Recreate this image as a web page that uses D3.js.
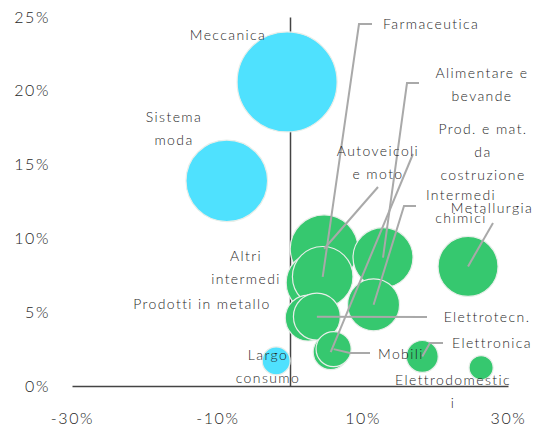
<!DOCTYPE html>
<html>
  <head>
    <meta charset="utf-8" />
    <script src="https://d3js.org/d3.v7.min.js"></script>
    <style>
      body { margin: 0; background: #fff; }
      svg text { font-family: Lato, "Open Sans", sans-serif; font-weight: 300; fill: #1f1f1f; }
    </style>
  </head>
  <body>
    <svg id="chart"></svg>
    <script>
      // sectors, drawn in this order (later ones on top)
      var sectors = [
        "Meccanica", "Sistema moda", "Largo consumo", "Autoveicoli e moto",
        "Altri intermedi", "Farmaceutica", "Alimentare e bevande", "Metallurgia",
        "Intermedi chimici", "Prodotti in metallo", "Elettrotecn.",
        "Prod. e mat. da costruzione", "Mobili", "Elettronica", "Elettrodomestici"
      ];
      // horizontal value (%)
      var xValues = [-0.4, -8.7, -1.9, 4.7, 3.6, 4.5, 12.8, 24.5, 11.5, 2.5, 3.7, 5.6, 6.0, 18.2, 26.3];
      // vertical value (%)
      var yValues = [20.6, 13.9, 1.7, 9.3, 7.0, 7.4, 8.7, 8.1, 5.5, 4.6, 4.7, 2.3, 2.5, 2.0, 1.24];
      // bubble size
      var sizes = [100, 66.6, 7.8, 46, 36, 36.7, 36, 36, 27, 21, 22, 12.3, 12.3, 10.2, 5.8];
      // group: 0 = cyan, 1 = green
      var groups = [0, 0, 0, 1, 1, 1, 1, 1, 1, 1, 1, 1, 1, 1, 1];

      var xTicks = [-30, -10, 10, 30];
      var yTicks = [0, 5, 10, 15, 20, 25];

      var width = 539, height = 430;
      var svg = d3.select("#chart").attr("width", width).attr("height", height);

      var x = d3.scaleLinear().domain([-30, 30]).range([72, 508]);
      var y = d3.scaleLinear().domain([0, 25]).range([386, 17]);
      var r = d3.scaleSqrt().domain([0, 100]).range([0, 50]);
      var colors = ["#4fe1fe", "#36c86f"];

      // axes (just the lines + labels, no tick marks)
      var xAxis = svg.append("g")
        .attr("transform", "translate(0," + y(0) + ")")
        .call(d3.axisBottom(x).tickValues(xTicks).tickSize(0).tickPadding(27)
          .tickFormat(function (d) { return d + "%"; }));
      xAxis.select(".domain").attr("stroke", "#444").attr("stroke-width", 1.5);

      var yAxis = svg.append("g")
        .attr("transform", "translate(" + x(0) + ",0)")
        .call(d3.axisLeft(y).tickValues(yTicks).tickSize(0).tickPadding(0)
          .tickFormat(function (d) { return d + "%"; }));
      yAxis.select(".domain").attr("stroke", "#444").attr("stroke-width", 1.5);
      // y labels sit at the far left of the picture
      yAxis.selectAll(".tick text").attr("x", 50 - x(0));

      svg.selectAll(".tick text")
        .attr("font-family", "Lato, sans-serif")
        .attr("font-size", 16)
        .attr("letter-spacing", 1.6)
        .attr("fill", "#1f1f1f");

      // bubbles
      svg.append("g").selectAll("circle")
        .data(sectors)
        .join("circle")
        .attr("cx", function (d, i) { return x(xValues[i]); })
        .attr("cy", function (d, i) { return y(yValues[i]); })
        .attr("r", function (d, i) { return r(sizes[i]); })
        .attr("fill", function (d, i) { return colors[groups[i]]; })
        .attr("stroke", "#e8eee9")
        .attr("stroke-width", 1.2);

      // leader lines: start near the label, optional elbow, then to the bubble centre
      var leaders = [
        { name: "Farmaceutica", pts: [[372, 24], [359, 24]] },
        { name: "Alimentare e bevande", pts: [[419, 83], [407, 83]] },
        { name: "Prod. e mat. da costruzione", pts: [[413, 154]] },
        { name: "Autoveicoli e moto", pts: [[378, 187]] },
        { name: "Intermedi chimici", pts: [[416, 206], [404, 206]] },
        { name: "Metallurgia", pts: [[493, 223]] },
        { name: "Elettrotecn.", pts: [[427, 317]] },
        { name: "Elettronica", pts: [[443, 343], [430, 343]] },
        { name: "Mobili", pts: [[370, 353], [350, 353]] }
      ];
      var line = d3.line();
      svg.append("g").selectAll("path")
        .data(leaders)
        .join("path")
        .attr("d", function (d) {
          var i = sectors.indexOf(d.name);
          return line(d.pts.concat([[x(xValues[i]), y(yValues[i])]]));
        })
        .attr("fill", "none")
        .attr("stroke", "#a9a9a9")
        .attr("stroke-width", 2);

      // labels
      var labels = [
        { lines: ["Meccanica"], x: 228, y: 35 },
        { lines: ["Sistema", "moda"], x: 174, y: 117 },
        { lines: ["Autoveicoli", "e moto"], x: 378, y: 151 },
        { lines: ["Farmaceutica"], x: 383, y: 24, anchor: "start" },
        { lines: ["Alimentare e", "bevande"], x: 482, y: 73 },
        { lines: ["Prod. e mat.", "da", "costruzione"], x: 483, y: 129 },
        { lines: ["Intermedi", "chimici"], x: 461, y: 195 },
        { lines: ["Metallurgia"], x: 492, y: 208 },
        { lines: ["Altri", "intermedi"], x: 246, y: 256 },
        { lines: ["Prodotti in metallo"], x: 202, y: 304 },
        { lines: ["Largo", "consumo"], x: 268, y: 355 },
        { lines: ["Elettrotecn."], x: 487, y: 317 },
        { lines: ["Elettronica"], x: 452, y: 343, anchor: "start" },
        { lines: ["Mobili"], x: 378, y: 354, anchor: "start" },
        { lines: ["Elettrodomestic", "i"], x: 453, y: 380 }
      ];
      var lab = svg.append("g").selectAll("text")
        .data(labels)
        .join("text")
        .attr("x", function (d) { return d.x; })
        .attr("y", function (d) { return d.y; })
        .attr("text-anchor", function (d) { return d.anchor || "middle"; })
        .attr("font-size", 14)
        .attr("letter-spacing", 1.4);
      lab.selectAll("tspan")
        .data(function (d) { return d.lines.map(function (t, k) { return { t: t, x: d.x, k: k }; }); })
        .join("tspan")
        .attr("x", function (d) { return d.x; })
        .attr("dy", function (d) { return d.k === 0 ? "0.35em" : "23px"; })
        .text(function (d) { return d.t; });
    </script>
  </body>
</html>
